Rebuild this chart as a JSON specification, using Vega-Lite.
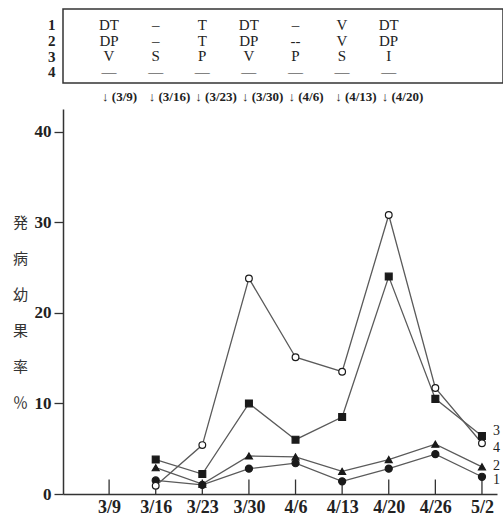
{
  "$schema": "https://vega.github.io/schema/vega-lite/v6.json",
  "background": "white",
  "padding": {"left": 12, "top": 8, "right": 0, "bottom": 0},
  "spacing": 26,
  "bounds": "flush",
  "config": {"view": {"stroke": null}, "font": "Liberation Serif"},
  "resolve": {"scale": {"x": "independent", "y": "independent"}},
  "datasets": {
    "table": [
      {"date": "3/9", "row": "1", "text": "DT"},
      {"date": "3/16", "row": "1", "text": "–"},
      {"date": "3/23", "row": "1", "text": "T"},
      {"date": "3/30", "row": "1", "text": "DT"},
      {"date": "4/6", "row": "1", "text": "–"},
      {"date": "4/13", "row": "1", "text": "V"},
      {"date": "4/20", "row": "1", "text": "DT"},
      {"date": "3/9", "row": "2", "text": "DP"},
      {"date": "3/16", "row": "2", "text": "–"},
      {"date": "3/23", "row": "2", "text": "T"},
      {"date": "3/30", "row": "2", "text": "DP"},
      {"date": "4/6", "row": "2", "text": "--"},
      {"date": "4/13", "row": "2", "text": "V"},
      {"date": "4/20", "row": "2", "text": "DP"},
      {"date": "3/9", "row": "3", "text": "V"},
      {"date": "3/16", "row": "3", "text": "S"},
      {"date": "3/23", "row": "3", "text": "P"},
      {"date": "3/30", "row": "3", "text": "V"},
      {"date": "4/6", "row": "3", "text": "P"},
      {"date": "4/13", "row": "3", "text": "S"},
      {"date": "4/20", "row": "3", "text": "I"},
      {"date": "3/9", "row": "4", "text": "—"},
      {"date": "3/16", "row": "4", "text": "—"},
      {"date": "3/23", "row": "4", "text": "—"},
      {"date": "3/30", "row": "4", "text": "—"},
      {"date": "4/6", "row": "4", "text": "—"},
      {"date": "4/13", "row": "4", "text": "—"},
      {"date": "4/20", "row": "4", "text": "—"}
    ],
    "dates": [
      {"date": "3/9", "arrow": "↓ (3/9)"},
      {"date": "3/16", "arrow": "↓ (3/16)"},
      {"date": "3/23", "arrow": "↓ (3/23)"},
      {"date": "3/30", "arrow": "↓ (3/30)"},
      {"date": "4/6", "arrow": "↓  (4/6)"},
      {"date": "4/13", "arrow": "↓ (4/13)"},
      {"date": "4/20", "arrow": "↓ (4/20)"},
      {"date": "4/26", "arrow": ""},
      {"date": "5/2", "arrow": ""}
    ],
    "series": [
      {"date": "3/16", "series": "1", "value": 1.5},
      {"date": "3/23", "series": "1", "value": 1.0},
      {"date": "3/30", "series": "1", "value": 2.8},
      {"date": "4/6", "series": "1", "value": 3.4},
      {"date": "4/13", "series": "1", "value": 1.4},
      {"date": "4/20", "series": "1", "value": 2.8},
      {"date": "4/26", "series": "1", "value": 4.4},
      {"date": "5/2", "series": "1", "value": 1.9},
      {"date": "3/16", "series": "2", "value": 2.9},
      {"date": "3/23", "series": "2", "value": 1.1},
      {"date": "3/30", "series": "2", "value": 4.2},
      {"date": "4/6", "series": "2", "value": 4.1},
      {"date": "4/13", "series": "2", "value": 2.5},
      {"date": "4/20", "series": "2", "value": 3.8},
      {"date": "4/26", "series": "2", "value": 5.5},
      {"date": "5/2", "series": "2", "value": 3.0},
      {"date": "3/16", "series": "3", "value": 3.8},
      {"date": "3/23", "series": "3", "value": 2.2},
      {"date": "3/30", "series": "3", "value": 10.0},
      {"date": "4/6", "series": "3", "value": 6.0},
      {"date": "4/13", "series": "3", "value": 8.5},
      {"date": "4/20", "series": "3", "value": 24.0},
      {"date": "4/26", "series": "3", "value": 10.5},
      {"date": "5/2", "series": "3", "value": 6.4},
      {"date": "3/16", "series": "4", "value": 0.9},
      {"date": "3/23", "series": "4", "value": 5.4},
      {"date": "3/30", "series": "4", "value": 23.8},
      {"date": "4/6", "series": "4", "value": 15.1},
      {"date": "4/13", "series": "4", "value": 13.5},
      {"date": "4/20", "series": "4", "value": 30.8},
      {"date": "4/26", "series": "4", "value": 11.7},
      {"date": "5/2", "series": "4", "value": 5.6}
    ]
  },
  "vconcat": [
    {
      "width": 440,
      "height": 74,
      "view": {"stroke": "#333", "strokeWidth": 1.5},
      "data": {"name": "table"},
      "mark": {"type": "text", "font": "Liberation Serif", "fontSize": 15, "color": "#222", "baseline": "middle"},
      "encoding": {
        "x": {"field": "date", "type": "ordinal", "scale": {"type": "point", "domain": ["3/9", "3/16", "3/23", "3/30", "4/6", "4/13", "4/20", "4/26", "5/2"], "padding": 0.721, "align": 0.685}, "axis": null},
        "y": {"field": "row", "type": "ordinal", "scale": {"type": "point", "domain": ["1", "2", "3", "4"], "padding": 0.855, "align": 0.59}, "axis": {"title": null, "domain": false, "ticks": false, "labelPadding": 8, "labelFont": "Liberation Serif", "labelFontWeight": "bold", "labelFontSize": 15, "labelColor": "#222"}},
        "text": {"field": "text"}
      }
    },
    {
      "width": 434,
      "height": 385,
      "layer": [
        {
          "data": {"name": "dates"},
          "mark": {"type": "rule", "color": "#333", "strokeWidth": 1.3},
          "encoding": {
            "x": {"field": "date", "type": "ordinal", "scale": {"type": "point", "domain": ["3/9", "3/16", "3/23", "3/30", "4/6", "4/13", "4/20", "4/26", "5/2"], "padding": 0.656, "align": 0.754}, "axis": {"title": null, "ticks": false, "labelAngle": 0, "domainColor": "#333", "domainWidth": 1.5, "labelFont": "Liberation Serif", "labelFontWeight": "bold", "labelFontSize": 18, "labelColor": "#222", "labelPadding": 4}},
            "y": {"datum": 0, "type": "quantitative", "scale": {"domain": [0, 42.5], "nice": false}},
            "y2": {"datum": 1.6}
          }
        },
        {
          "data": {"name": "dates"},
          "mark": {"type": "text", "align": "left", "baseline": "middle", "dx": -7, "dy": -12, "font": "'Liberation Serif', 'DejaVu Sans'", "fontWeight": "bold", "fontSize": 13, "color": "#222"},
          "encoding": {
            "x": {"field": "date", "type": "ordinal"},
            "y": {"datum": 42.5, "type": "quantitative"},
            "text": {"field": "arrow"}
          }
        },
        {
          "data": {"name": "series"},
          "mark": {"type": "line", "color": "#5a5a5a", "strokeWidth": 1.3},
          "encoding": {
            "x": {"field": "date", "type": "ordinal"},
            "y": {"field": "value", "type": "quantitative", "axis": {"values": [0, 10, 20, 30, 40], "grid": false, "tickSize": 9, "tickColor": "#333", "tickWidth": 1.3, "domainColor": "#333", "domainWidth": 1.5, "labelFont": "Liberation Serif", "labelFontWeight": "bold", "labelFontSize": 17, "labelColor": "#222", "labelPadding": 3, "title": ["発", "病", "幼", "果", "率", "％"], "titleFont": "Noto Sans CJK JP", "titleFontSize": 15, "titleFontWeight": "normal", "titleColor": "#333", "titleAngle": 0, "titleLineHeight": 36, "titleX": -43, "titleY": 106, "titleAlign": "center", "titleBaseline": "top"}},
            "detail": {"field": "series"}
          }
        },
        {
          "data": {"name": "series"},
          "mark": {"type": "point", "filled": false, "strokeWidth": 1.2, "opacity": 1},
          "encoding": {
            "x": {"field": "date", "type": "ordinal"},
            "y": {"field": "value", "type": "quantitative"},
            "shape": {"field": "series", "type": "nominal", "scale": {"domain": ["1", "2", "3", "4"], "range": ["circle", "triangle-up", "square", "circle"]}, "legend": null},
            "fill": {"field": "series", "type": "nominal", "scale": {"domain": ["1", "2", "3", "4"], "range": ["#1a1a1a", "#1a1a1a", "#1a1a1a", "#ffffff"]}, "legend": null},
            "stroke": {"value": "#1a1a1a"},
            "size": {"field": "series", "type": "nominal", "scale": {"domain": ["1", "2", "3", "4"], "range": [50, 45, 55, 50]}, "legend": null}
          }
        },
        {
          "data": {"name": "series"},
          "transform": [{"filter": "datum.date == '5/2' && datum.series == '1'"}],
          "mark": {"type": "text", "align": "left", "baseline": "middle", "dx": 11, "dy": 3, "font": "Liberation Serif", "fontSize": 14, "color": "#222"},
          "encoding": {
            "x": {"field": "date", "type": "ordinal"},
            "y": {"field": "value", "type": "quantitative"},
            "text": {"field": "series"}
          }
        },
        {
          "data": {"name": "series"},
          "transform": [{"filter": "datum.date == '5/2' && datum.series == '2'"}],
          "mark": {"type": "text", "align": "left", "baseline": "middle", "dx": 11, "dy": -1, "font": "Liberation Serif", "fontSize": 14, "color": "#222"},
          "encoding": {
            "x": {"field": "date", "type": "ordinal"},
            "y": {"field": "value", "type": "quantitative"},
            "text": {"field": "series"}
          }
        },
        {
          "data": {"name": "series"},
          "transform": [{"filter": "datum.date == '5/2' && datum.series == '3'"}],
          "mark": {"type": "text", "align": "left", "baseline": "middle", "dx": 11, "dy": -5, "font": "Liberation Serif", "fontSize": 14, "color": "#222"},
          "encoding": {
            "x": {"field": "date", "type": "ordinal"},
            "y": {"field": "value", "type": "quantitative"},
            "text": {"field": "series"}
          }
        },
        {
          "data": {"name": "series"},
          "transform": [{"filter": "datum.date == '5/2' && datum.series == '4'"}],
          "mark": {"type": "text", "align": "left", "baseline": "middle", "dx": 11, "dy": 5, "font": "Liberation Serif", "fontSize": 14, "color": "#222"},
          "encoding": {
            "x": {"field": "date", "type": "ordinal"},
            "y": {"field": "value", "type": "quantitative"},
            "text": {"field": "series"}
          }
        }
      ]
    }
  ]
}
